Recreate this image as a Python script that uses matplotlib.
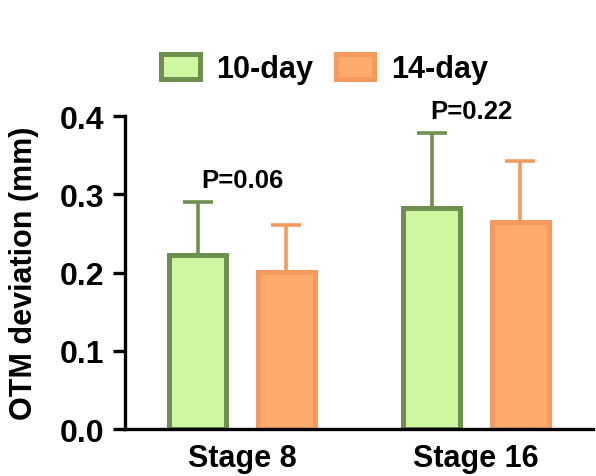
import numpy as np
import matplotlib
matplotlib.use("Agg")
import matplotlib.pyplot as plt

plt.rcParams['font.family'] = ['Liberation Sans', 'DejaVu Sans']
plt.rcParams['font.weight'] = 'bold'

stages = ["Stage 8", "Stage 16"]
series = ["10-day", "14-day"]
means_10 = [0.223, 0.283]
means_14 = [0.201, 0.265]
sd_10 = [0.067, 0.095]
sd_14 = [0.060, 0.077]
p_labels = ["P=0.06", "P=0.22"]

fills = ["#cff7a1", "#fdaa6f"]
edges = ["#6f8f4f", "#f59a5f"]

fig = plt.figure(figsize=(5.96, 4.77), dpi=100)
ax = fig.add_axes([0.2097, 0.0985, 0.7853, 0.6562])

x = np.arange(len(stages))
width = 0.243
offset = 0.19

for i, (m, s) in enumerate([(means_10, sd_10), (means_14, sd_14)]):
    pos = x + (i * 2 - 1) * offset
    ax.bar(pos, m, width, color=fills[i], edgecolor=edges[i], linewidth=3.6,
           label=series[i], zorder=2)
    ax.errorbar(pos, m, yerr=[np.zeros(len(m)), s], fmt='none', ecolor=edges[i],
                elinewidth=2.6, capsize=11, capthick=2.6, zorder=1)

# p values above groups
tops = [max(means_10[k] + sd_10[k], means_14[k] + sd_14[k]) for k in range(len(stages))]
for k, lab in enumerate(p_labels):
    ax.text(x[k] - 0.02 * k, tops[k] + 0.013, lab, ha='center', va='bottom',
            fontsize=18.5, fontweight='bold')

ax.set_xlim(-0.5, 1.5)
ax.set_ylim(0, 0.4)
ax.set_yticks([0.0, 0.1, 0.2, 0.3, 0.4])
ax.set_yticklabels(["0.0", "0.1", "0.2", "0.3", "0.4"])
ax.set_xticks(x)
ax.set_xticklabels(stages)
ax.tick_params(axis='y', length=9, width=2.4, labelsize=23, pad=6)
ax.tick_params(axis='x', length=0, labelsize=22, pad=10)
ax.spines['top'].set_visible(False)
ax.spines['right'].set_visible(False)
ax.spines['left'].set_linewidth(2.4)
ax.spines['bottom'].set_linewidth(2.4)
ax.set_ylabel("OTM deviation (mm)", fontsize=22, fontweight='bold', labelpad=15)

fig.legend(loc='center', bbox_to_anchor=(0.545, 0.853), ncol=2, frameon=False,
           fontsize=22, handlelength=1.25, handleheight=0.85, handletextpad=0.55,
           columnspacing=0.75)

plt.savefig("out.png", dpi=100)
